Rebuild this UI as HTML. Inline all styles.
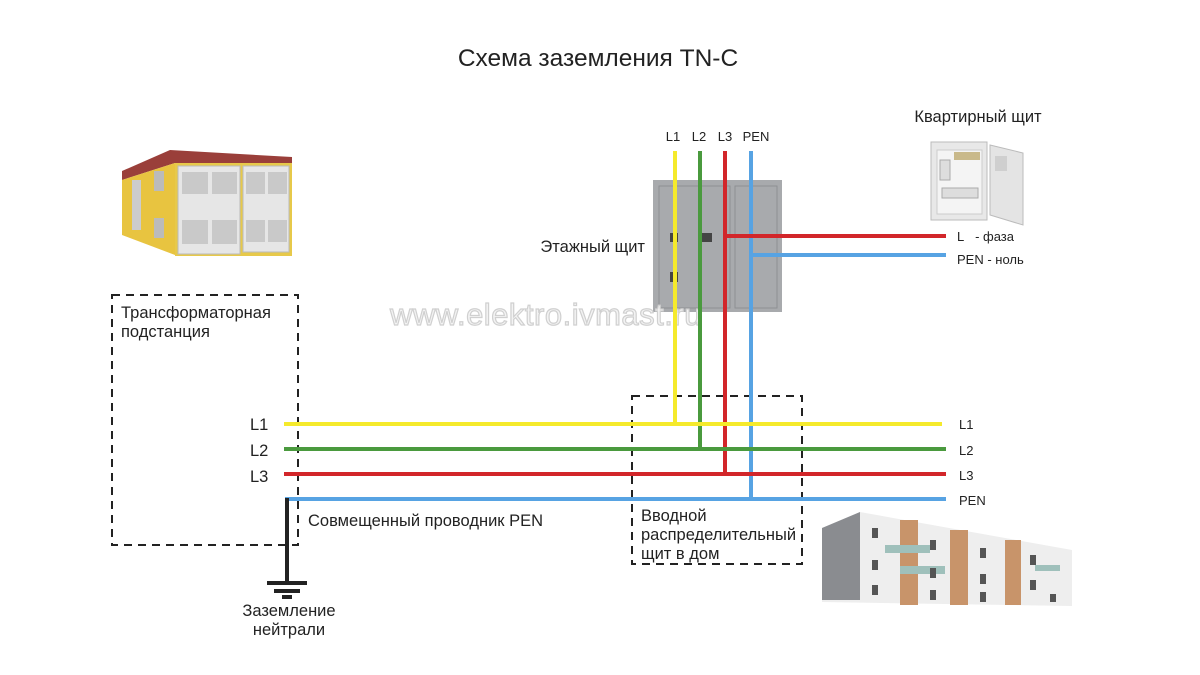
<!DOCTYPE html>
<html><head><meta charset="utf-8"><style>
html,body{margin:0;padding:0;background:#fff;}
svg{display:block;}
text{font-family:"Liberation Sans",sans-serif;}
</style></head><body>
<svg width="1200" height="675" viewBox="0 0 1200 675" xmlns="http://www.w3.org/2000/svg">
<rect width="1200" height="675" fill="#fff"/>
<g fill="#222">
<text x="598" y="66" font-size="24.5" text-anchor="middle">Схема заземления TN-C</text>
</g>

<!-- transformer substation image -->
<g>
<polygon points="122,171 170,150 292,157 292,167 175,163 122,180" fill="#9a3f3a"/>
<polygon points="122,180 175,163 175,255 122,235" fill="#e8c440"/>
<rect x="175" y="163" width="117" height="93" fill="#e7c94a"/>
<rect x="178" y="166" width="62" height="88" fill="#e6e6e6" stroke="#bbb"/>
<rect x="243" y="166" width="46" height="86" fill="#e6e6e6" stroke="#bbb"/>
<rect x="182" y="172" width="26" height="22" fill="#c9c9c9"/>
<rect x="212" y="172" width="25" height="22" fill="#c9c9c9"/>
<rect x="246" y="172" width="19" height="22" fill="#c9c9c9"/>
<rect x="268" y="172" width="19" height="22" fill="#c9c9c9"/>
<rect x="182" y="220" width="26" height="24" fill="#c9c9c9"/>
<rect x="212" y="220" width="25" height="24" fill="#c9c9c9"/>
<rect x="246" y="220" width="19" height="22" fill="#c9c9c9"/>
<rect x="268" y="220" width="19" height="22" fill="#c9c9c9"/>
<rect x="132" y="180" width="9" height="50" fill="#ccc"/>
<rect x="154" y="171" width="10" height="20" fill="#bbb"/>
<rect x="154" y="218" width="10" height="20" fill="#bbb"/>
</g>

<!-- apartment panel image -->
<g>
<rect x="931" y="142" width="56" height="78" fill="#e8e8e8" stroke="#bbb"/>
<rect x="937" y="150" width="45" height="64" fill="#f4f4f4" stroke="#ccc"/>
<rect x="954" y="152" width="26" height="8" fill="#c9b98a"/>
<rect x="940" y="160" width="10" height="20" fill="#ddd" stroke="#aaa"/>
<rect x="942" y="188" width="36" height="10" fill="#ddd" stroke="#aaa"/>
<polygon points="990,145 1023,153 1023,225 990,215" fill="#e4e4e4" stroke="#bbb"/>
<rect x="995" y="156" width="12" height="15" fill="#cfcfcf"/>
</g>

<!-- floor panel -->
<g>
<rect x="653" y="180" width="129" height="132" fill="#a8aaad"/>
<rect x="659" y="186" width="71" height="122" fill="none" stroke="#8e9094"/>
<rect x="735" y="186" width="42" height="122" fill="none" stroke="#8e9094"/>
<rect x="670" y="233" width="8" height="9" fill="#444"/>
<rect x="702" y="233" width="10" height="9" fill="#444"/>
<rect x="670" y="272" width="8" height="10" fill="#444"/>
</g>

<!-- watermark -->
<text x="390" y="325" font-size="31" style="fill:#f3f3f3;stroke:#d0d0d0;stroke-width:1.2" letter-spacing="0.5">www.elektro.ivmast.ru</text>

<!-- building image -->
<g>
<polygon points="822,528 860,512 1072,550 1072,606 822,602" fill="#eee"/>
<polygon points="822,528 860,512 860,600 822,600" fill="#8a8c90"/>
<rect x="900" y="520" width="18" height="85" fill="#c8946a"/>
<rect x="950" y="530" width="18" height="75" fill="#c8946a"/>
<rect x="1005" y="540" width="16" height="65" fill="#c8946a"/>
<rect x="885" y="545" width="45" height="8" fill="#9fc0bb"/>
<rect x="900" y="566" width="45" height="8" fill="#9fc0bb"/>
<rect x="1035" y="565" width="25" height="6" fill="#9fc0bb"/>
<g fill="#555">
<rect x="872" y="528" width="6" height="10"/><rect x="930" y="540" width="6" height="10"/><rect x="980" y="548" width="6" height="10"/><rect x="1030" y="555" width="6" height="10"/>
<rect x="872" y="560" width="6" height="10"/><rect x="930" y="568" width="6" height="10"/><rect x="980" y="574" width="6" height="10"/><rect x="1030" y="580" width="6" height="10"/>
<rect x="872" y="585" width="6" height="10"/><rect x="930" y="590" width="6" height="10"/><rect x="980" y="592" width="6" height="10"/><rect x="1050" y="594" width="6" height="8"/>
</g>
</g>

<!-- dashed boxes -->
<rect x="112" y="295" width="186" height="250" fill="none" stroke="#222" stroke-width="2" stroke-dasharray="8,6"/>
<rect x="632" y="396" width="170" height="168" fill="none" stroke="#222" stroke-width="2" stroke-dasharray="8,6"/>

<!-- wires -->
<g stroke-width="4" fill="none">
<line x1="675" y1="151" x2="675" y2="424" stroke="#f5ea2c"/>
<line x1="700" y1="151" x2="700" y2="449" stroke="#4a9a3e"/>
<line x1="725" y1="151" x2="725" y2="474" stroke="#d2262a"/>
<line x1="751" y1="151" x2="751" y2="499" stroke="#57a3e3"/>
<line x1="725" y1="236" x2="946" y2="236" stroke="#d2262a"/>
<line x1="751" y1="255" x2="946" y2="255" stroke="#57a3e3"/>
<line x1="284" y1="424" x2="942" y2="424" stroke="#f5ea2c"/>
<line x1="284" y1="449" x2="946" y2="449" stroke="#4a9a3e"/>
<line x1="284" y1="474" x2="946" y2="474" stroke="#d2262a"/>
<line x1="285" y1="499" x2="946" y2="499" stroke="#57a3e3"/>
</g>

<!-- ground -->
<g stroke="#222" stroke-width="4">
<line x1="287" y1="498" x2="287" y2="582"/>
<line x1="267" y1="583" x2="307" y2="583"/>
<line x1="274" y1="591" x2="300" y2="591"/>
<line x1="282" y1="597" x2="292" y2="597"/>
</g>

<!-- labels -->
<g fill="#222">
<text x="645" y="252" font-size="16.5" text-anchor="end">Этажный щит</text>
<text x="673" y="141" font-size="13" text-anchor="middle">L1</text>
<text x="699" y="141" font-size="13" text-anchor="middle">L2</text>
<text x="725" y="141" font-size="13" text-anchor="middle">L3</text>
<text x="756" y="141" font-size="13" text-anchor="middle">PEN</text>
<text x="978" y="122" font-size="16.5" text-anchor="middle">Квартирный щит</text>
<text x="957" y="241" font-size="13">L&#160;&#160;&#160;- фаза</text>
<text x="957" y="264" font-size="13">PEN - ноль</text>
<text x="121" y="318" font-size="16.5">Трансформаторная</text>
<text x="121" y="337" font-size="16.5">подстанция</text>
<text x="250" y="430" font-size="16.5">L1</text>
<text x="250" y="456" font-size="16.5">L2</text>
<text x="250" y="482" font-size="16.5">L3</text>
<text x="308" y="526" font-size="16.5">Совмещенный проводник PEN</text>
<text x="289" y="616" font-size="16.5" text-anchor="middle">Заземление</text>
<text x="289" y="635" font-size="16.5" text-anchor="middle">нейтрали</text>
<text x="641" y="521" font-size="16.5">Вводной</text>
<text x="641" y="540" font-size="16.5">распределительный</text>
<text x="641" y="559" font-size="16.5">щит в дом</text>
<text x="959" y="429" font-size="13">L1</text>
<text x="959" y="455" font-size="13">L2</text>
<text x="959" y="480" font-size="13">L3</text>
<text x="959" y="505" font-size="13">PEN</text>
</g>
</svg>
</body></html>
